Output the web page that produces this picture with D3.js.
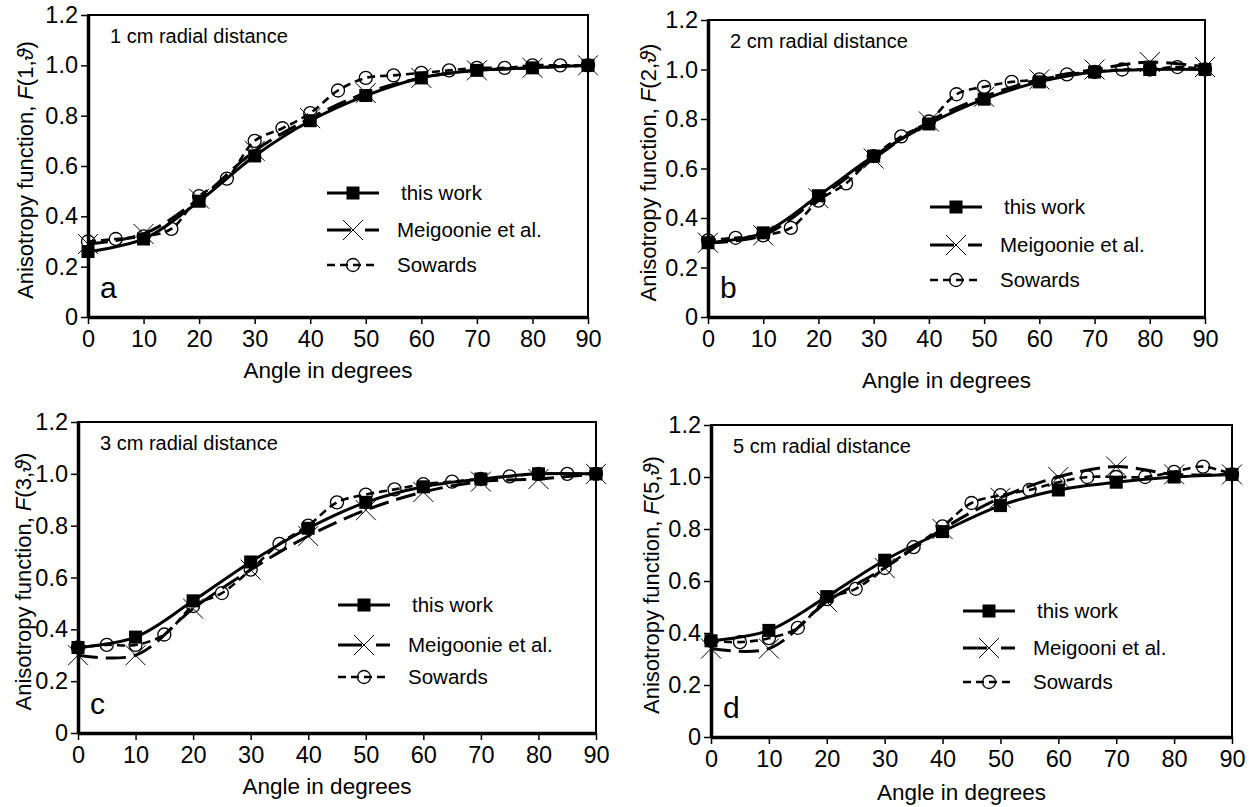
<!DOCTYPE html>
<html>
<head>
<meta charset="utf-8">
<script src="https://cdn.jsdelivr.net/npm/d3@7"></script>
<style>
  body { margin: 0; background: #fff; }
  text { font-family: "Liberation Sans", Arial, sans-serif; fill: #000; }
</style>
</head>
<body>
<svg id="chart"></svg>
<script>
// angles (degrees)
var anglesMain = [0, 10, 20, 30, 40, 50, 60, 70, 80, 90]
var anglesSowards = [0, 5, 10, 15, 20, 25, 30, 35, 40, 45, 50, 55, 60, 65, 70, 75, 80, 85, 90]
var xTicks = [0, 10, 20, 30, 40, 50, 60, 70, 80, 90]
var yTicks = [0, 0.2, 0.4, 0.6, 0.8, 1.0, 1.2]

// 1 cm
var thisWork1 = [0.26, 0.31, 0.46, 0.64, 0.78, 0.88, 0.95, 0.98, 0.99, 1.00]
var meig1 = [0.29, 0.33, 0.47, 0.66, 0.79, 0.89, 0.95, 0.98, 0.99, 1.00]
var sow1 = [0.30, 0.31, 0.32, 0.35, 0.48, 0.55, 0.70, 0.75, 0.81, 0.90, 0.95, 0.96, 0.97, 0.98, 0.99, 0.99, 1.00, 1.00, 1.00]
// 2 cm
var thisWork2 = [0.30, 0.34, 0.49, 0.65, 0.78, 0.88, 0.95, 0.99, 1.00, 1.00]
var meig2 = [0.30, 0.33, 0.48, 0.64, 0.79, 0.89, 0.96, 1.00, 1.03, 1.01]
var sow2 = [0.31, 0.32, 0.33, 0.36, 0.47, 0.54, 0.65, 0.73, 0.79, 0.90, 0.93, 0.95, 0.96, 0.98, 0.99, 1.00, 1.00, 1.01, 1.00]
// 3 cm
var thisWork3 = [0.33, 0.37, 0.51, 0.66, 0.79, 0.89, 0.95, 0.98, 1.00, 1.00]
var meig3 = [0.30, 0.30, 0.48, 0.63, 0.76, 0.86, 0.93, 0.97, 0.98, 1.00]
var sow3 = [0.33, 0.34, 0.34, 0.38, 0.49, 0.54, 0.63, 0.73, 0.80, 0.89, 0.92, 0.94, 0.96, 0.97, 0.98, 0.99, 1.00, 1.00, 1.00]
// 5 cm
var thisWork5 = [0.37, 0.41, 0.54, 0.68, 0.79, 0.89, 0.95, 0.98, 1.00, 1.01]
var meig5 = [0.34, 0.34, 0.52, 0.65, 0.80, 0.92, 1.00, 1.04, 1.01, 1.01]
var sow5 = [0.37, 0.365, 0.38, 0.42, 0.53, 0.57, 0.65, 0.73, 0.81, 0.90, 0.93, 0.95, 0.98, 1.00, 1.00, 1.00, 1.02, 1.04, 1.01]

var panels = [
    {letter: "a", r: "1", sub: "1 cm radial distance", meigName: "Meigoonie et al.", tw: thisWork1, mg: meig1, sw: sow1,
     left: 88, right: 588, top: 15, bottom: 317, yTitleX: 33, xTitleY: 378, legX: 327, legY: 193, legStep: [37, 35]},
    {letter: "b", r: "2", sub: "2 cm radial distance", meigName: "Meigoonie et al.", tw: thisWork2, mg: meig2, sw: sow2,
     left: 708, right: 1205, top: 20, bottom: 317, yTitleX: 656, xTitleY: 388, legX: 930, legY: 207, legStep: [38, 35]},
    {letter: "c", r: "3", sub: "3 cm radial distance", meigName: "Meigoonie et al.", tw: thisWork3, mg: meig3, sw: sow3,
     left: 78, right: 596, top: 422, bottom: 733, yTitleX: 31, xTitleY: 794, legX: 338, legY: 605, legStep: [40, 32]},
    {letter: "d", r: "5", sub: "5 cm radial distance", meigName: "Meigooni et al.", tw: thisWork5, mg: meig5, sw: sow5,
     left: 711, right: 1232, top: 425, bottom: 737, yTitleX: 659, xTitleY: 800, legX: 963, legY: 611, legStep: [37, 34]}
]

var svg = d3.select("#chart")
    .attr("width", 1249)
    .attr("height", 807)

var font = "'Liberation Sans', Arial, sans-serif"

function drawMarker(sel, kind) {
    if (kind === "square") {
        sel.append("rect").attr("x", -6.5).attr("y", -6.5).attr("width", 13).attr("height", 13).attr("fill", "#000")
    } else if (kind === "cross") {
        sel.append("path").attr("d", "M-10,-10L10,10M-10,10L10,-10")
            .attr("stroke", "#000").attr("stroke-width", 1).attr("fill", "none")
    } else {
        sel.append("circle").attr("r", 6.5).attr("fill", "none").attr("stroke", "#000").attr("stroke-width", 1.3)
    }
}

var styles = {
    tw: {dash: null, width: 3, marker: "square"},
    mg: {dash: "20,8", width: 3, marker: "cross"},
    sw: {dash: "8,5", width: 2.6, marker: "circle"}
}

function drawPanel(p) {
    var x = d3.scaleLinear().domain([0, 90]).range([p.left, p.right])
    var y = d3.scaleLinear().domain([0, 1.2]).range([p.bottom, p.top])
    var g = svg.append("g")

    //frame
    g.append("rect")
        .attr("x", p.left).attr("y", p.top)
        .attr("width", p.right - p.left).attr("height", p.bottom - p.top)
        .attr("fill", "none").attr("stroke", "#000").attr("stroke-width", 2)

    var xAxis = d3.axisBottom(x).tickValues(xTicks).tickSize(7).tickSizeOuter(0).tickPadding(6).tickFormat(d3.format("d"))
    var yAxis = d3.axisLeft(y).tickValues(yTicks).tickSize(7).tickSizeOuter(0).tickPadding(3)
        .tickFormat(d => d === 0 ? "0" : d3.format(".1f")(d))

    var gx = g.append("g").attr("transform", `translate(0,${p.bottom})`).call(xAxis)
    var gy = g.append("g").attr("transform", `translate(${p.left},0)`).call(yAxis)
    ;[gx, gy].forEach(a => {
        a.attr("font-family", font).attr("font-size", 23.5)
        a.select(".domain").attr("stroke-width", 3.5)
        a.selectAll(".tick line").attr("stroke-width", 1.5)
    })

    var line = d3.line()
        .x(d => x(d[0]))
        .y(d => y(d[1]))
        .curve(d3.curveCatmullRom.alpha(0.5))

    var series = [
        {key: "sw", xs: anglesSowards, ys: p.sw},
        {key: "mg", xs: anglesMain, ys: p.mg},
        {key: "tw", xs: anglesMain, ys: p.tw}
    ]
    series.forEach(s => {
        var pts = s.xs.map((a, i) => [a, s.ys[i]])
        var st = styles[s.key]
        g.append("path")
            .attr("d", line(pts))
            .attr("fill", "none").attr("stroke", "#000")
            .attr("stroke-width", st.width)
            .attr("stroke-dasharray", st.dash)
        g.selectAll(null).data(pts).enter().append("g")
            .attr("transform", d => `translate(${x(d[0])},${y(d[1])})`)
            .each(function () { drawMarker(d3.select(this), st.marker) })
    })

    //subtitle + letter
    g.append("text").attr("x", p.left + 22).attr("y", p.top + 28).attr("font-size", 20).text(p.sub)
    g.append("text").attr("x", p.left + 12).attr("y", p.bottom - 19).attr("font-size", 30).text(p.letter)

    //axis titles
    g.append("text").attr("x", (p.left + p.right) / 2 - 10).attr("y", p.xTitleY)
        .attr("text-anchor", "middle").attr("font-size", 22.5).text("Angle in degrees")
    var yt = g.append("text")
        .attr("transform", `translate(${p.yTitleX},${(p.top + p.bottom) / 2 + 4}) rotate(-90)`)
        .attr("text-anchor", "middle").attr("font-size", 22)
    yt.append("tspan").text("Anisotropy function, ")
    yt.append("tspan").attr("font-style", "italic").text("F")
    yt.append("tspan").text("(" + p.r + ",")
    yt.append("tspan").attr("font-style", "italic").text("ϑ")
    yt.append("tspan").text(")")

    //legend
    var legend = [
        {key: "tw", label: "this work", dx: 4, dash: null},
        {key: "mg", label: p.meigName, dx: 0, dash: "24,14,14"},
        {key: "sw", label: "Sowards", dx: 0, dash: "8,5"}
    ]
    var ly = p.legY
    legend.forEach((l, i) => {
        if (i > 0) ly += p.legStep[i - 1]
        var st = styles[l.key]
        g.append("line")
            .attr("x1", p.legX).attr("x2", p.legX + 52).attr("y1", ly).attr("y2", ly)
            .attr("stroke", "#000").attr("stroke-width", st.width)
            .attr("stroke-dasharray", l.dash)
        drawMarker(g.append("g").attr("transform", `translate(${p.legX + 26},${ly})`), st.marker)
        g.append("text").attr("x", p.legX + 70 + l.dx).attr("y", ly + 7).attr("font-size", 20.5).text(l.label)
    })
}

panels.forEach(drawPanel)
</script>
</body>
</html>
